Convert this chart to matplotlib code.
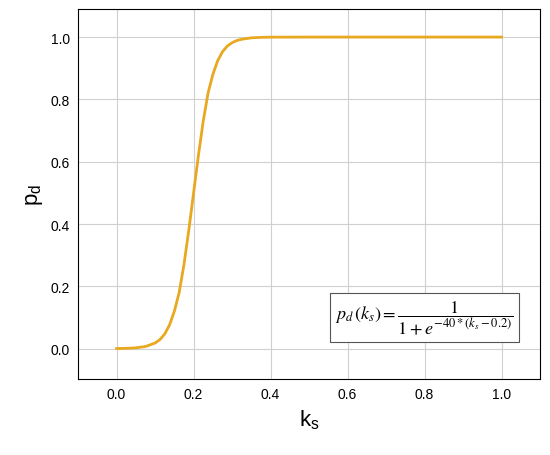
import numpy as np
import matplotlib
matplotlib.use("Agg")
from matplotlib import pyplot as plt

plt.rcParams['font.family'] = ['Liberation Sans', 'DejaVu Sans']
plt.rcParams['mathtext.fontset'] = 'stix'

# values
ks = [0.0, 0.025, 0.05, 0.075, 0.1, 0.1125, 0.125, 0.1375, 0.15, 0.1625, 0.175,
      0.1875, 0.2, 0.2125, 0.225, 0.2375, 0.25, 0.2625, 0.275, 0.2875, 0.3,
      0.3125, 0.325, 0.35, 0.375, 0.4, 0.5, 1.0]
pd = [0.0003, 0.001, 0.0025, 0.0067, 0.018, 0.029, 0.047, 0.076, 0.12, 0.18,
      0.27, 0.38, 0.5, 0.62, 0.73, 0.82, 0.88, 0.924, 0.953, 0.971, 0.982,
      0.989, 0.993, 0.9975, 0.9991, 0.9997, 1.0, 1.0]
xticks = [0.0, 0.2, 0.4, 0.6, 0.8, 1.0]
yticks = [0.0, 0.2, 0.4, 0.6, 0.8, 1.0]

fig = plt.figure(figsize=(5.5, 4.56), dpi=100)
ax = fig.add_axes([0.142, 0.167, 0.84, 0.811])
ax.plot(ks, pd, color='#E8A820', lw=2)
ax.set_xlim(-0.1, 1.1)
ax.set_ylim(-0.097, 1.09)
ax.set_xticks(xticks)
ax.set_yticks(yticks)
ax.set_xticklabels(['%.1f' % v for v in xticks])
ax.set_yticklabels(['%.1f' % v for v in yticks])
ax.grid(color='#d0d0d0', lw=0.8)
ax.tick_params(labelsize=10, length=0, pad=6)
ax.set_xlabel('k$_\\mathregular{s}$', fontsize=16)
ax.set_ylabel('p$_\\mathregular{d}$', fontsize=16)
ax.text(0.8, 0.1, r'$p_d\,(k_s)=\dfrac{1}{1+e^{-40*(k_s-0.2)}}$', fontsize=13,
        ha='center', va='center',
        bbox=dict(boxstyle='square,pad=0.3', fc='white', ec='#555555', lw=0.8))
fig.savefig('out.png')
